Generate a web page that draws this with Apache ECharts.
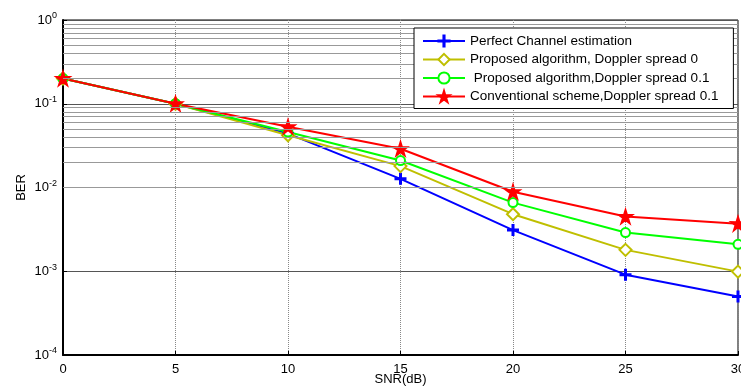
<!DOCTYPE html>
<html>
<head>
<meta charset="utf-8">
<script src="https://cdn.jsdelivr.net/npm/echarts@6/dist/echarts.min.js"></script>
<style>
  html, body { margin: 0; padding: 0; background: #fff; }
  #chart { width: 741px; height: 388px; }
</style>
</head>
<body>
<div id="chart"></div>
<script>
// SNR points (dB)
const snr = [0, 5, 10, 15, 20, 25, 30];

// BER curves
const perfect = [0.2, 0.1, 0.044, 0.0127, 0.0031, 0.00091, 0.0005];
const proposed0 = [0.2, 0.1, 0.042, 0.018, 0.0048, 0.0018, 0.00099];
const proposed01 = [0.2, 0.1, 0.046, 0.021, 0.0066, 0.0029, 0.0021];
const conventional = [0.2, 0.1, 0.053, 0.029, 0.0089, 0.0045, 0.0037];

const seriesNames = [
  'Perfect Channel estimation',
  'Proposed algorithm, Doppler spread 0',
  ' Proposed algorithm,Doppler spread 0.1',
  'Conventional scheme,Doppler spread 0.1'
];
const seriesColors = ['#0000ff', '#bfbf00', '#00ff00', '#ff0000'];

// minor log grid values 2..9 x each decade
const decades = [1e-4, 1e-3, 1e-2, 1e-1];
const minorVals = [];
decades.forEach(d => {
  for (let k = 2; k <= 9; k++) minorVals.push(+(d * k).toPrecision(3));
});

const FONT = '"Liberation Sans", Arial, sans-serif';
const plusPath = 'path://M45,0h10v45h45v10h-45v45h-10v-45h-45v-10h45z';
const starPath = 'path://M0,-100L22.3,-30.7L95.1,-30.9L36.1,11.7L58.8,80.9L0,38L-58.8,80.9L-36.1,11.7L-95.1,-30.9L-22.3,-30.7Z';

const chart = echarts.init(document.getElementById('chart'));

function curve(name, data, color, symbol, size) {
  return {
    name: name,
    type: 'line',
    data: snr.map((x, i) => [x, data[i]]),
    symbol: symbol,
    symbolSize: size,
    z: 3,
    lineStyle: { color: color, width: 2 },
    itemStyle: { color: color, borderColor: color, borderWidth: 2 },
    emphasis: { disabled: true }
  };
}

chart.setOption({
  animation: false,
  textStyle: { fontFamily: FONT },
  grid: {
    left: 63, right: 3, top: 20, bottom: 33,
    outerBoundsMode: 'none',
    containLabel: false,
    show: true, borderColor: '#000', borderWidth: 1
  },
  legend: {
    data: seriesNames.map((n, i) => ({
      name: n,
      lineStyle: { color: seriesColors[i], width: 2 }
    })),
    orient: 'vertical',
    left: 414, top: 28,
    z: 100,
    backgroundColor: '#fff',
    borderColor: '#000',
    borderWidth: 1,
    padding: [6, 15, 5, 8],
    itemWidth: 42,
    itemHeight: 14,
    itemGap: 4.5,
    textStyle: { fontFamily: FONT, fontSize: 13.5, color: '#000' }
  },
  xAxis: {
    type: 'value',
    min: 0, max: 30, interval: 5,
    name: 'SNR(dB)',
    nameLocation: 'middle',
    nameGap: 18,
    nameMoveOverlap: false,
    nameTextStyle: { fontFamily: FONT, fontSize: 13, color: '#000', verticalAlign: 'top' },
    axisLine: { lineStyle: { color: '#000', width: 2 } },
    axisTick: { inside: true, length: 4, lineStyle: { color: '#000' } },
    axisLabel: { color: '#000', fontSize: 13, margin: 8 },
    splitLine: { show: true, lineStyle: { color: '#888', type: 'dotted', width: 1 } }
  },
  yAxis: {
    type: 'log',
    logBase: 10,
    min: 1e-4, max: 1,
    name: 'BER',
    nameLocation: 'middle',
    nameGap: 35,
    nameRotate: 90,
    nameMoveOverlap: false,
    nameTextStyle: { fontFamily: FONT, fontSize: 13, color: '#000' },
    axisLine: { lineStyle: { color: '#000', width: 2 } },
    axisTick: { inside: true, length: 4, lineStyle: { color: '#000' } },
    axisLabel: {
      color: '#000',
      margin: 6,
      formatter: v => '{b|10}{s|' + Math.round(Math.log10(v)) + '}',
      rich: {
        b: { fontSize: 13, fontFamily: FONT, color: '#000' },
        s: { fontSize: 9, fontFamily: FONT, color: '#000', verticalAlign: 'top', padding: [0, 0, 8, 0] }
      }
    },
    splitLine: { show: true, lineStyle: { color: '#555', type: 'solid', width: 1 } }
  },
  series: [
    {
      name: 'minor-grid',
      type: 'line',
      data: [],
      z: 1,
      silent: true,
      markLine: {
        silent: true,
        symbol: 'none',
        animation: false,
        label: { show: false },
        lineStyle: { color: '#999', type: 'solid', width: 1 },
        data: minorVals.map(v => ({ yAxis: v }))
      }
    },
    curve(seriesNames[0], perfect, seriesColors[0], plusPath, 10),
    curve(seriesNames[1], proposed0, seriesColors[1], 'emptyDiamond', 12),
    curve(seriesNames[2], proposed01, seriesColors[2], 'emptyCircle', 9),
    curve(seriesNames[3], conventional, seriesColors[3], starPath, 13)
  ]
});
</script>
</body>
</html>
